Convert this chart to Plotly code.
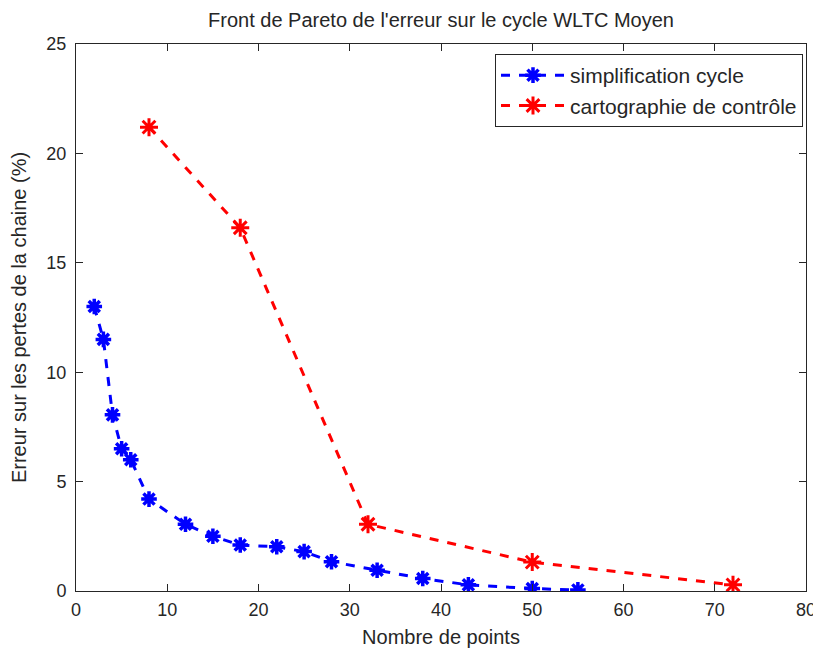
import plotly.graph_objects as go

# Data
blue_x = [2, 3, 4, 5, 6, 8, 12, 15, 18, 22, 25, 28, 33, 38, 43, 50, 55]
blue_y = [13.0, 11.5, 8.05, 6.5, 6.0, 4.2, 3.05, 2.5, 2.1, 2.02, 1.8, 1.34, 0.95, 0.57, 0.28, 0.11, 0.05]
red_x = [8, 18, 32, 50, 72]
red_y = [21.2, 16.6, 3.05, 1.32, 0.28]
blue_name = "simplification cycle"
red_name = "cartographie de contrôle"

title = "Front de Pareto de l'erreur sur le cycle WLTC Moyen"
x_title = "Nombre de points"
y_title = "Erreur sur les pertes de la chaine (%)"

FONT = "Liberation Sans, Arial, sans-serif"
TXT = "#262626"

# page body has an 8px default margin, so the figure is sized to fit the window
W, H = 813, 640
L, T, PW, PH = 68, 36, 730, 547

fig = go.Figure()
fig.add_trace(go.Scatter(
    x=blue_x, y=blue_y, name=blue_name, mode="lines+markers",
    line=dict(color="#0000ff", width=3, dash="dash"),
    marker=dict(symbol="asterisk-open", size=13, color="#0000ff",
                line=dict(color="#0000ff", width=3.5)),
))
fig.add_trace(go.Scatter(
    x=red_x, y=red_y, name=red_name, mode="lines+markers",
    line=dict(color="#ff0000", width=3, dash="dash"),
    marker=dict(symbol="asterisk-open", size=15, color="#ff0000",
                line=dict(color="#ff0000", width=3)),
))

axis_common = dict(
    showline=True, linecolor=TXT, linewidth=1, mirror="ticks",
    ticks="inside", ticklen=7, tickcolor=TXT, showgrid=False,
    zeroline=False, automargin=False,
    tickfont=dict(family=FONT, size=18, color=TXT),
)

fig.update_layout(
    width=W, height=H,
    paper_bgcolor="white", plot_bgcolor="white",
    margin=dict(l=L, r=W - L - PW, t=T, b=H - T - PH, autoexpand=False),
    title=dict(text=title, x=(L + PW / 2) / W, xanchor="center", y=1 - 12 / H, yanchor="middle",
               font=dict(family=FONT, size=20, color=TXT)),
    xaxis=dict(range=[0, 80], tickvals=list(range(0, 81, 10)), ticklabelstandoff=2,
               title=dict(text=x_title, font=dict(family=FONT, size=20, color=TXT), standoff=11),
               **axis_common),
    yaxis=dict(range=[0, 25], tickvals=list(range(0, 26, 5)), ticklabelstandoff=5,
               title=dict(text=y_title, font=dict(family=FONT, size=20, color=TXT), standoff=18),
               **axis_common),
    legend=dict(x=1 - 3 / PW, y=1 - 10 / PH, xanchor="right", yanchor="top",
                bordercolor=TXT, borderwidth=1, bgcolor="white",
                font=dict(family=FONT, size=21, color=TXT),
                itemwidth=64, entrywidth=320, entrywidthmode="pixels",
                tracegroupgap=0),
    showlegend=True,
)

fig.write_html("out.html")
